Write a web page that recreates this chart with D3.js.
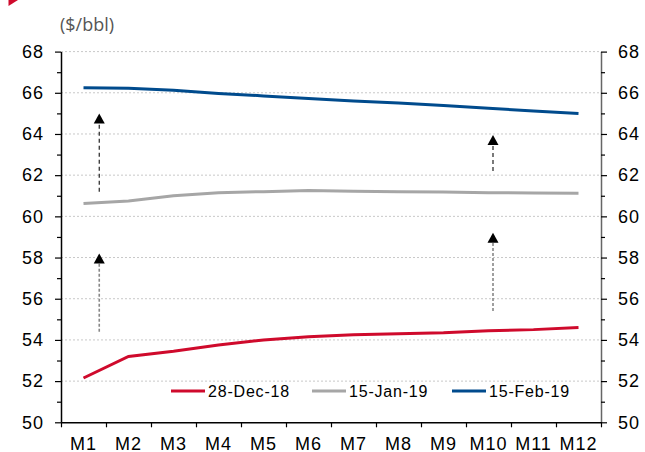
<!DOCTYPE html>
<html>
<head>
<meta charset="utf-8">
<script src="https://cdn.jsdelivr.net/npm/d3@7"></script>
<style>
  body { margin: 0; background: #fff; }
  svg text { font-family: "Liberation Sans", Arial, sans-serif; }
</style>
</head>
<body>
<div id="chart"></div>
<script>
const months = ["M1","M2","M3","M4","M5","M6","M7","M8","M9","M10","M11","M12"];
const dec28 = [52.15, 53.2, 53.45, 53.75, 54.0, 54.15, 54.25, 54.3, 54.35, 54.45, 54.5, 54.6];
const jan15 = [60.62, 60.75, 61.0, 61.15, 61.2, 61.25, 61.22, 61.2, 61.18, 61.15, 61.13, 61.12];
const feb15 = [66.25, 66.22, 66.12, 65.97, 65.85, 65.72, 65.6, 65.5, 65.38, 65.25, 65.12, 65.0];
const seriesNames = ["28-Dec-18", "15-Jan-19", "15-Feb-19"];
const majorTicks = [50, 52, 54, 56, 58, 60, 62, 64, 66, 68];
const minorTicks = [51, 53, 55, 57, 59, 61, 63, 65, 67];
// arrows: position in month units (0 = left edge), from / to in $/bbl
const arrows = [
  {pos: 0.85, from: 61.2, to: 65.0, dark: true},
  {pos: 0.85, from: 54.4, to: 58.2, dark: false},
  {pos: 9.6, from: 62.2, to: 63.95, dark: true},
  {pos: 9.6, from: 55.4, to: 59.2, dark: false}
];

const W = 645, H = 452;
const mLeft = 61, mRight = 601, mTop = 51.6, mBottom = 422.3;
const colors = ["#cf0a2c", "#a6a6a6", "#004b8d"];

const svg = d3.select("#chart").append("svg")
    .attr("width", W).attr("height", H);

// little red corner mark
svg.append("path").attr("d", "M8.5,0 L18,0 L8.5,6 Z").attr("fill", "#cf0a2c");

const x = d3.scaleBand().domain(months).range([mLeft, mRight]).padding(0);
const xi = d3.scaleLinear().domain([0, 12]).range([mLeft, mRight]);
const y = d3.scaleLinear().domain([50, 68]).range([mBottom, mTop]);

// gridlines
svg.append("g").selectAll("line")
    .data(majorTicks.filter(d => d > 50))
    .enter().append("line")
    .attr("x1", mLeft).attr("x2", mRight)
    .attr("y1", d => y(d)).attr("y2", d => y(d))
    .attr("stroke", "#c8c8c8").attr("stroke-width", 1)
    .attr("stroke-dasharray", "2,2");

// title
svg.append("text").attr("x", 60).attr("y", 31)
    .style("font-family", "'Open Sans', sans-serif")
    .style("font-size", "18px").attr("fill", "#555")
    .text("($/bbl)");

// left axis
const gl = svg.append("g").attr("transform", "translate(" + mLeft + ",0)");
gl.call(d3.axisLeft(y).tickValues(majorTicks).tickSize(6).tickPadding(11).tickSizeOuter(0));
gl.append("g").call(d3.axisLeft(y).tickValues(minorTicks).tickSize(4).tickFormat("").tickSizeOuter(0))
  .select(".domain").remove();

// right axis
const gr = svg.append("g").attr("transform", "translate(" + mRight + ",0)");
gr.call(d3.axisRight(y).tickValues(majorTicks).tickSize(6).tickPadding(11).tickSizeOuter(0));
gr.append("g").call(d3.axisRight(y).tickValues(minorTicks).tickSize(4).tickFormat("").tickSizeOuter(0))
  .select(".domain").remove();
gr.select(".domain").attr("stroke", "#666");

// bottom axis: labels centred, ticks at band edges
const gb = svg.append("g").attr("transform", "translate(0," + mBottom + ")");
gb.call(d3.axisBottom(x).tickSize(0).tickPadding(15).tickSizeOuter(0));
gb.append("g").call(d3.axisBottom(xi).tickValues(d3.range(0, 13)).tickSize(5).tickFormat("").tickSizeOuter(0))
  .select(".domain").remove();

svg.selectAll(".tick text")
    .style("font-size", "18px").style("letter-spacing", "1px")
    .attr("fill", "#000");
svg.selectAll(".domain").attr("stroke-width", 1.5);
svg.selectAll(".tick line").attr("stroke-width", 1.2);

// arrows
arrows.forEach(a => {
  const ax = xi(a.pos);
  const tipY = y(a.to);
  svg.append("line")
      .attr("x1", ax).attr("x2", ax)
      .attr("y1", y(a.from)).attr("y2", tipY + 10)
      .attr("stroke", a.dark ? "#222" : "#888")
      .attr("stroke-width", a.dark ? 1.2 : 1.6)
      .attr("stroke-dasharray", a.dark ? "4,3" : "3,2");
  svg.append("path")
      .attr("d", `M${ax},${tipY} L${ax - 5.5},${tipY + 10} L${ax + 5.5},${tipY + 10} Z`)
      .attr("fill", "#000");
});

// lines
const line = d3.line()
    .x((d, i) => x(months[i]) + x.bandwidth() / 2)
    .y(d => y(d));
[dec28, jan15, feb15].forEach((s, k) => {
  svg.append("path").datum(s)
      .attr("d", line)
      .attr("fill", "none")
      .attr("stroke", colors[k])
      .attr("stroke-width", 3);
});

// legend
const legendX = [171, 312, 452];
const lg = svg.append("g");
seriesNames.forEach((name, k) => {
  lg.append("line")
      .attr("x1", legendX[k]).attr("x2", legendX[k] + 34)
      .attr("y1", 391).attr("y2", 391)
      .attr("stroke", colors[k]).attr("stroke-width", 3);
  lg.append("text")
      .attr("x", legendX[k] + 37).attr("y", 391).attr("dy", "0.36em")
      .style("font-size", "16px").style("letter-spacing", "0.8px")
      .attr("fill", "#000")
      .text(name);
});
</script>
</body>
</html>
